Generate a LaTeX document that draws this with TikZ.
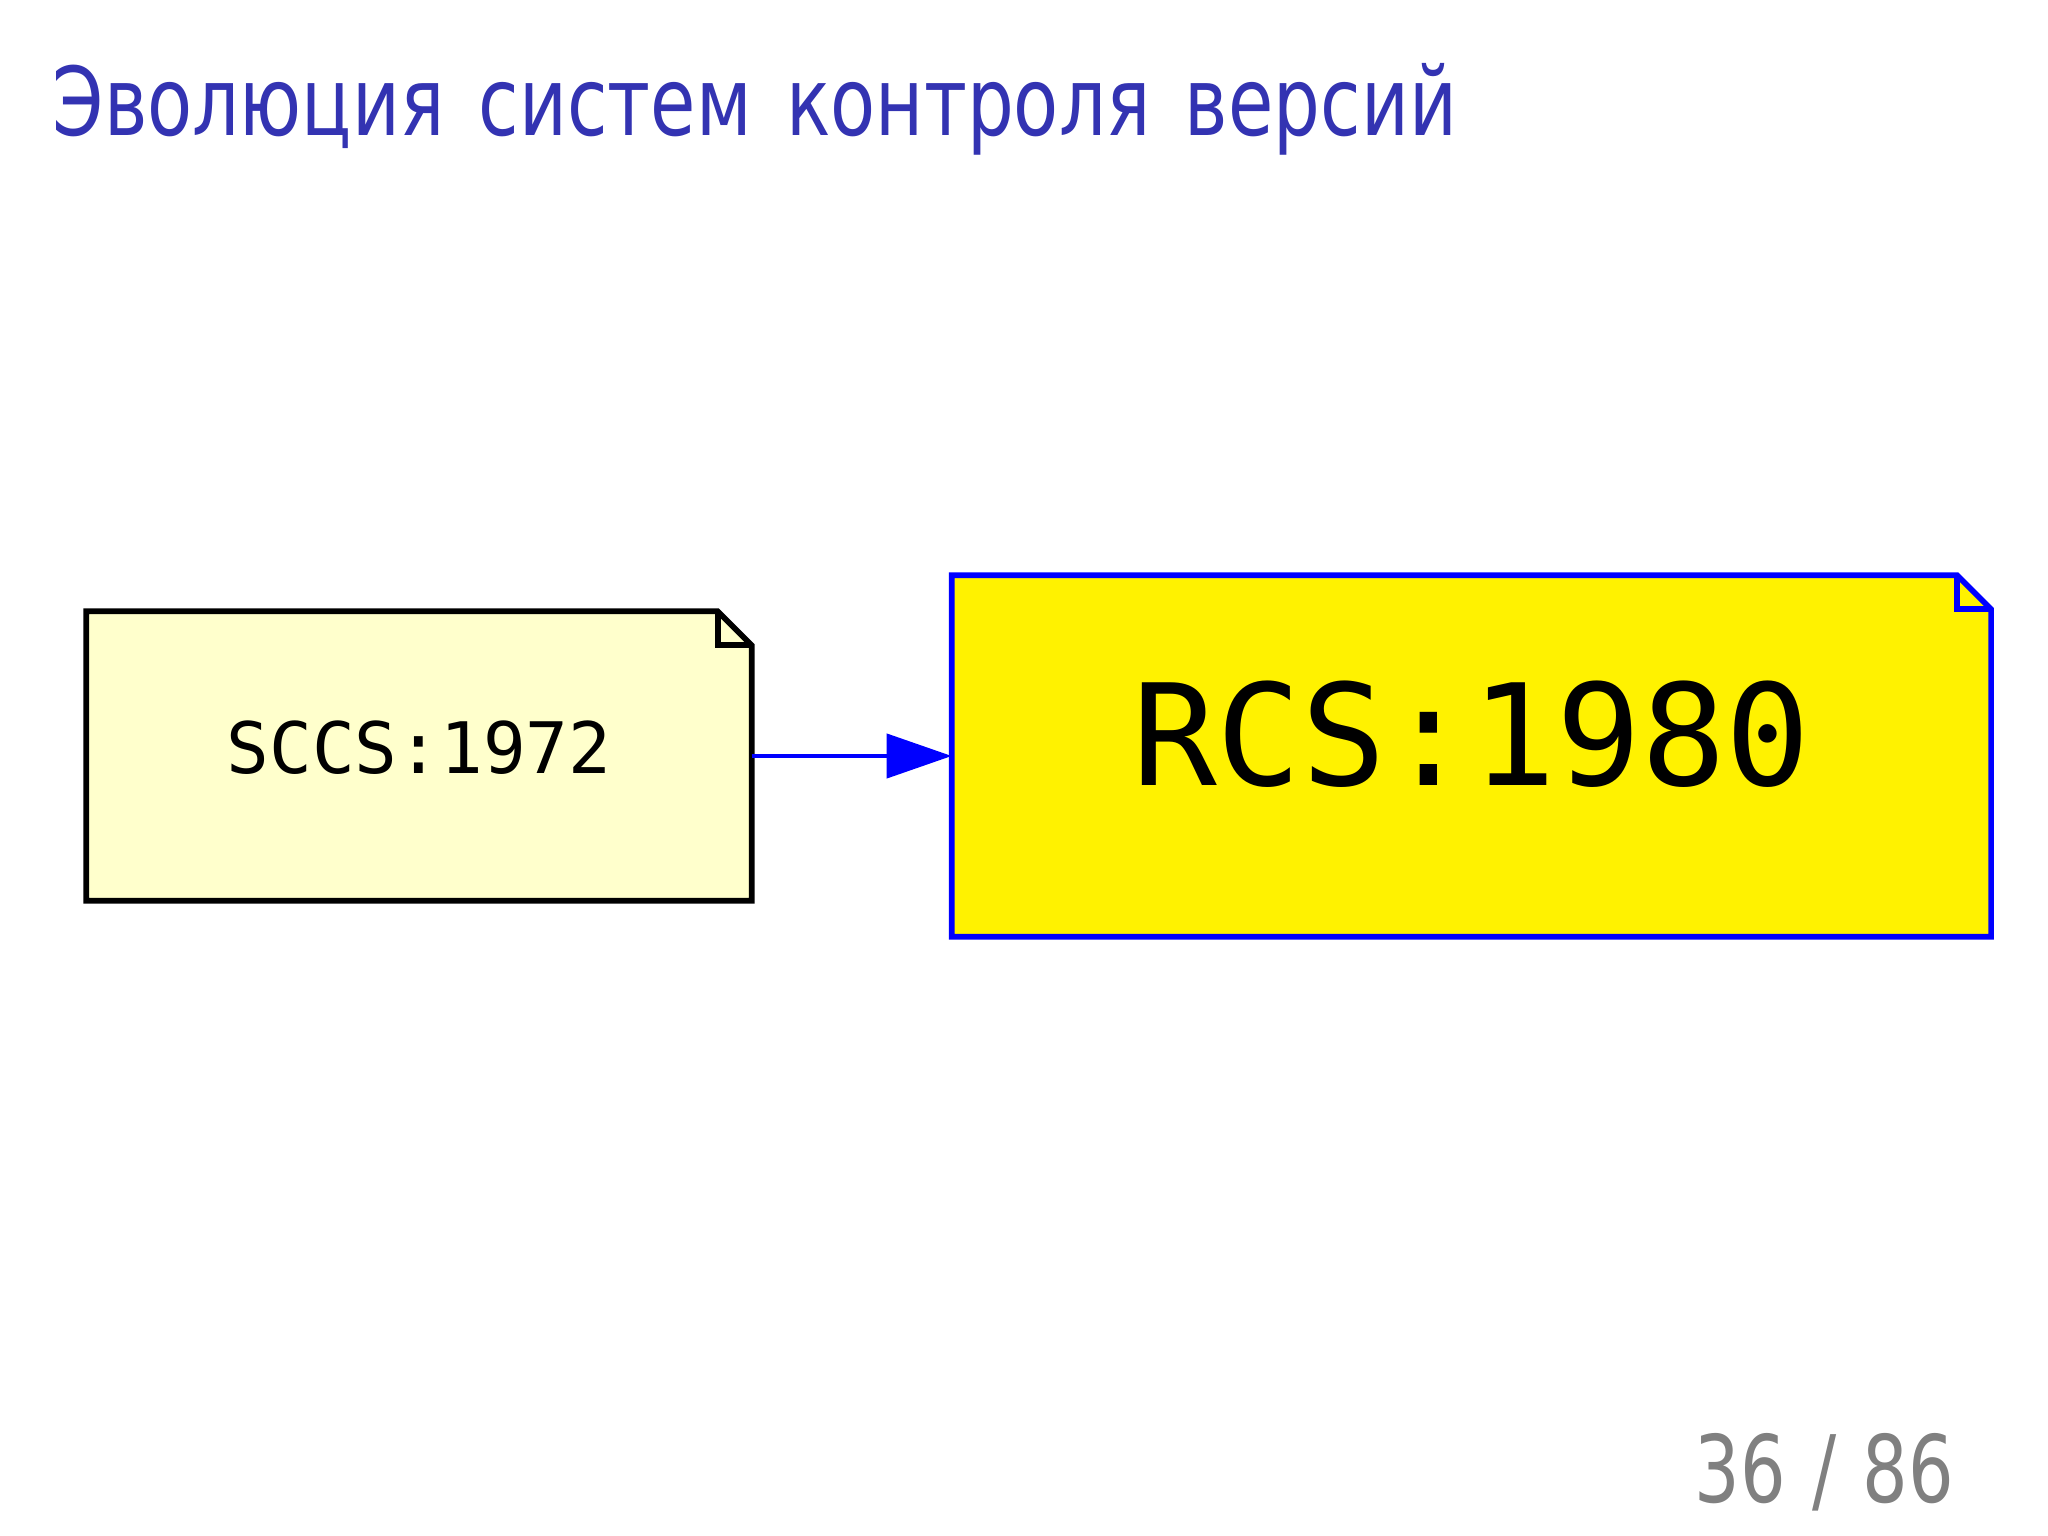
\documentclass[tikz,border=0pt]{standalone}
\usepackage{fontspec}
\usepackage{graphicx}
\newfontfamily\titlefont{DejaVu Sans}
\newfontfamily\notefont{DejaVu Sans Mono}
\usetikzlibrary{arrows.meta, calc, positioning, backgrounds}
\definecolor{beamerblue}{rgb}{0.2,0.2,0.7}
\definecolor{paleyellow}{RGB}{255,255,204}
\tikzstyle{note} = [rectangle, inner sep=0pt, text centered, text=black]
\tikzstyle{arrow} = [line width=1.2pt, draw=blue, -{Triangle[length=6.5mm, width=4.4mm, fill=blue]}]
% outline of a note with a folded corner: node, line colour, fill colour
\newcommand{\foldnote}[3]{
	\filldraw[draw=#2, fill=#3, line width=1.6pt, line join=miter]
		(#1.south west) -- (#1.north west) -- ([xshift=-3.4mm]#1.north east)
		-- ([yshift=-3.4mm]#1.north east) -- (#1.south east) -- cycle;
	\draw[draw=#2, line width=1.6pt]
		([xshift=-3.4mm]#1.north east) -- ([xshift=-3.4mm, yshift=-3.4mm]#1.north east)
		-- ([yshift=-3.4mm]#1.north east);
}

\begin{document}
\begin{tikzpicture}
	\useasboundingbox (0,0) rectangle (20.48,-15.36);
	\node (title) [anchor=base west, inner sep=0pt, text=beamerblue] at (0.52,-1.36)
		{\scalebox{0.777}[1]{\titlefont\fontsize{27}{32}\selectfont\spaceskip=12.6pt Эволюция систем контроля версий}};
	\node (sccs) [note, minimum width=6.64cm, minimum height=2.88cm, text depth=0.18cm] at (4.19,-7.56)
		{\notefont\fontsize{20.2}{24}\selectfont SCCS:1972};
	\node (rcs) [note, right=2cm of sccs, minimum width=10.38cm, minimum height=3.6cm, text depth=0.46cm]
		{\notefont\fontsize{40.1}{48}\selectfont RCS:1980};
	\draw[arrow] (sccs) -- (rcs);
	\node (page) [anchor=base east, inner sep=0pt, text=gray] at (19.55,-15.02)
		{\scalebox{0.77}[1]{\titlefont\fontsize{26.5}{32}\selectfont\spaceskip=9.8pt 36 / 86}};
	\begin{scope}[on background layer]
		\fill[white] (0,0) rectangle (20.48,-15.36);
		\foldnote{sccs}{black}{paleyellow}
		\foldnote{rcs}{blue}{yellow}
	\end{scope}
\end{tikzpicture}
\end{document}
